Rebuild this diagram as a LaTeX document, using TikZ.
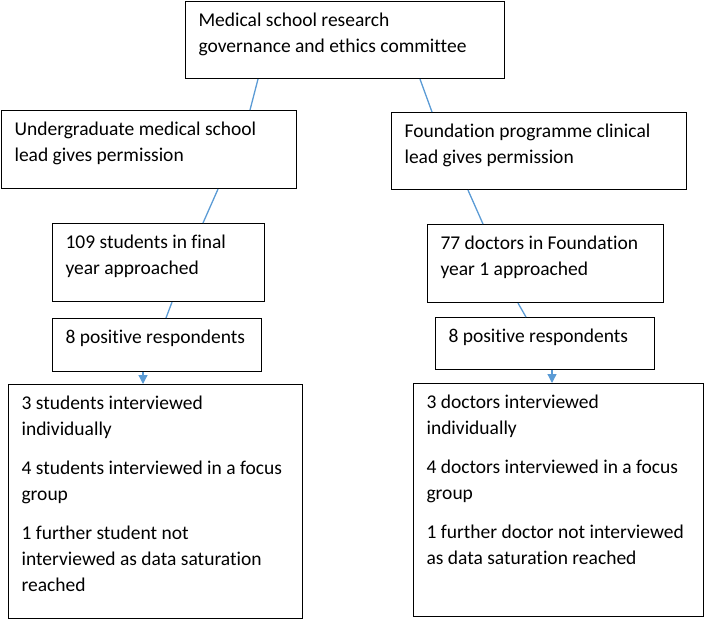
\documentclass[tikz,border=0pt]{standalone}
\usepackage{fontspec}
\setmainfont{Carlito}[Ligatures=NoCommon]
\usetikzlibrary{arrows.meta}
\definecolor{linkblue}{RGB}{91,155,213}
\newcommand{\boxtext}[3]{\parbox[c][#2][t]{#1}{\raggedright\setlength{\parskip}{13pt}\rule{0pt}{25pt}#3}}
\tikzset{
    stage/.style={draw, line width=1.1pt, inner xsep=13pt, inner ysep=0pt, anchor=north west, font=\fontsize{19.5}{26}\selectfont},
    link/.style={linkblue, line width=1.3pt}
}
\begin{document}
\begin{tikzpicture}[x=1pt, y=-1pt]
    \useasboundingbox (0,0) rectangle (709,619);
    \node[stage] (committee) at (185,1)   {\boxtext{293pt}{77pt}{Medical school research\\governance and ethics committee}};
    \node[stage] (uglead)    at (1,110)   {\boxtext{269pt}{78pt}{Undergraduate medical school\\lead gives permission}};
    \node[stage] (fplead)    at (391,112) {\boxtext{269pt}{77pt}{Foundation programme clinical\\lead gives permission}};
    \node[stage] (ugasked)   at (52,223)  {\boxtext{186pt}{78pt}{109 students in final\\year approached}};
    \node[stage] (fpasked)   at (427,224) {\boxtext{210pt}{78pt}{77 doctors in Foundation\\year 1 approached}};
    \node[stage] (ugyes)     at (52,318)  {\boxtext{183pt}{53pt}{8 positive respondents}};
    \node[stage] (fpyes)     at (435,317) {\boxtext{193pt}{52pt}{8 positive respondents}};
    \node[stage] (ugdone)    at (8,384)   {\boxtext{268pt}{234pt}{3 students interviewed\\individually\par
        4 students interviewed in a focus\\group\par
        1 further student not\\interviewed as data saturation\\reached}};
    \node[stage] (fpdone)    at (413,383) {\boxtext{264pt}{233pt}{3 doctors interviewed\\individually\par
        4 doctors interviewed in a focus\\group\par
        1 further doctor not interviewed\\as data saturation reached}};

    \draw[link] ([xshift=73pt]committee.south west) -- ([xshift=249pt]uglead.north west);
    \draw[link] ([xshift=235pt]committee.south west) -- ([xshift=41pt]fplead.north west);
    \draw[link] ([xshift=217pt]uglead.south west) -- ([xshift=151pt]ugasked.north west);
    \draw[link] ([xshift=77pt]fplead.south west) -- ([xshift=56pt]fpasked.north west);
    \draw[link] ([xshift=120pt]ugasked.south west) -- ([xshift=114pt]ugyes.north west);
    \draw[link] ([xshift=91pt]fpasked.south west) -- ([xshift=91pt]fpyes.north west);
    \draw[link, -{Triangle[width=9pt, length=9pt]}] ([xshift=91pt]ugyes.south west) -- ([xshift=135pt]ugdone.north west);
    \draw[link, -{Triangle[width=9pt, length=9pt]}] ([xshift=117pt]fpyes.south west) -- ([xshift=139pt]fpdone.north west);
\end{tikzpicture}
\end{document}
